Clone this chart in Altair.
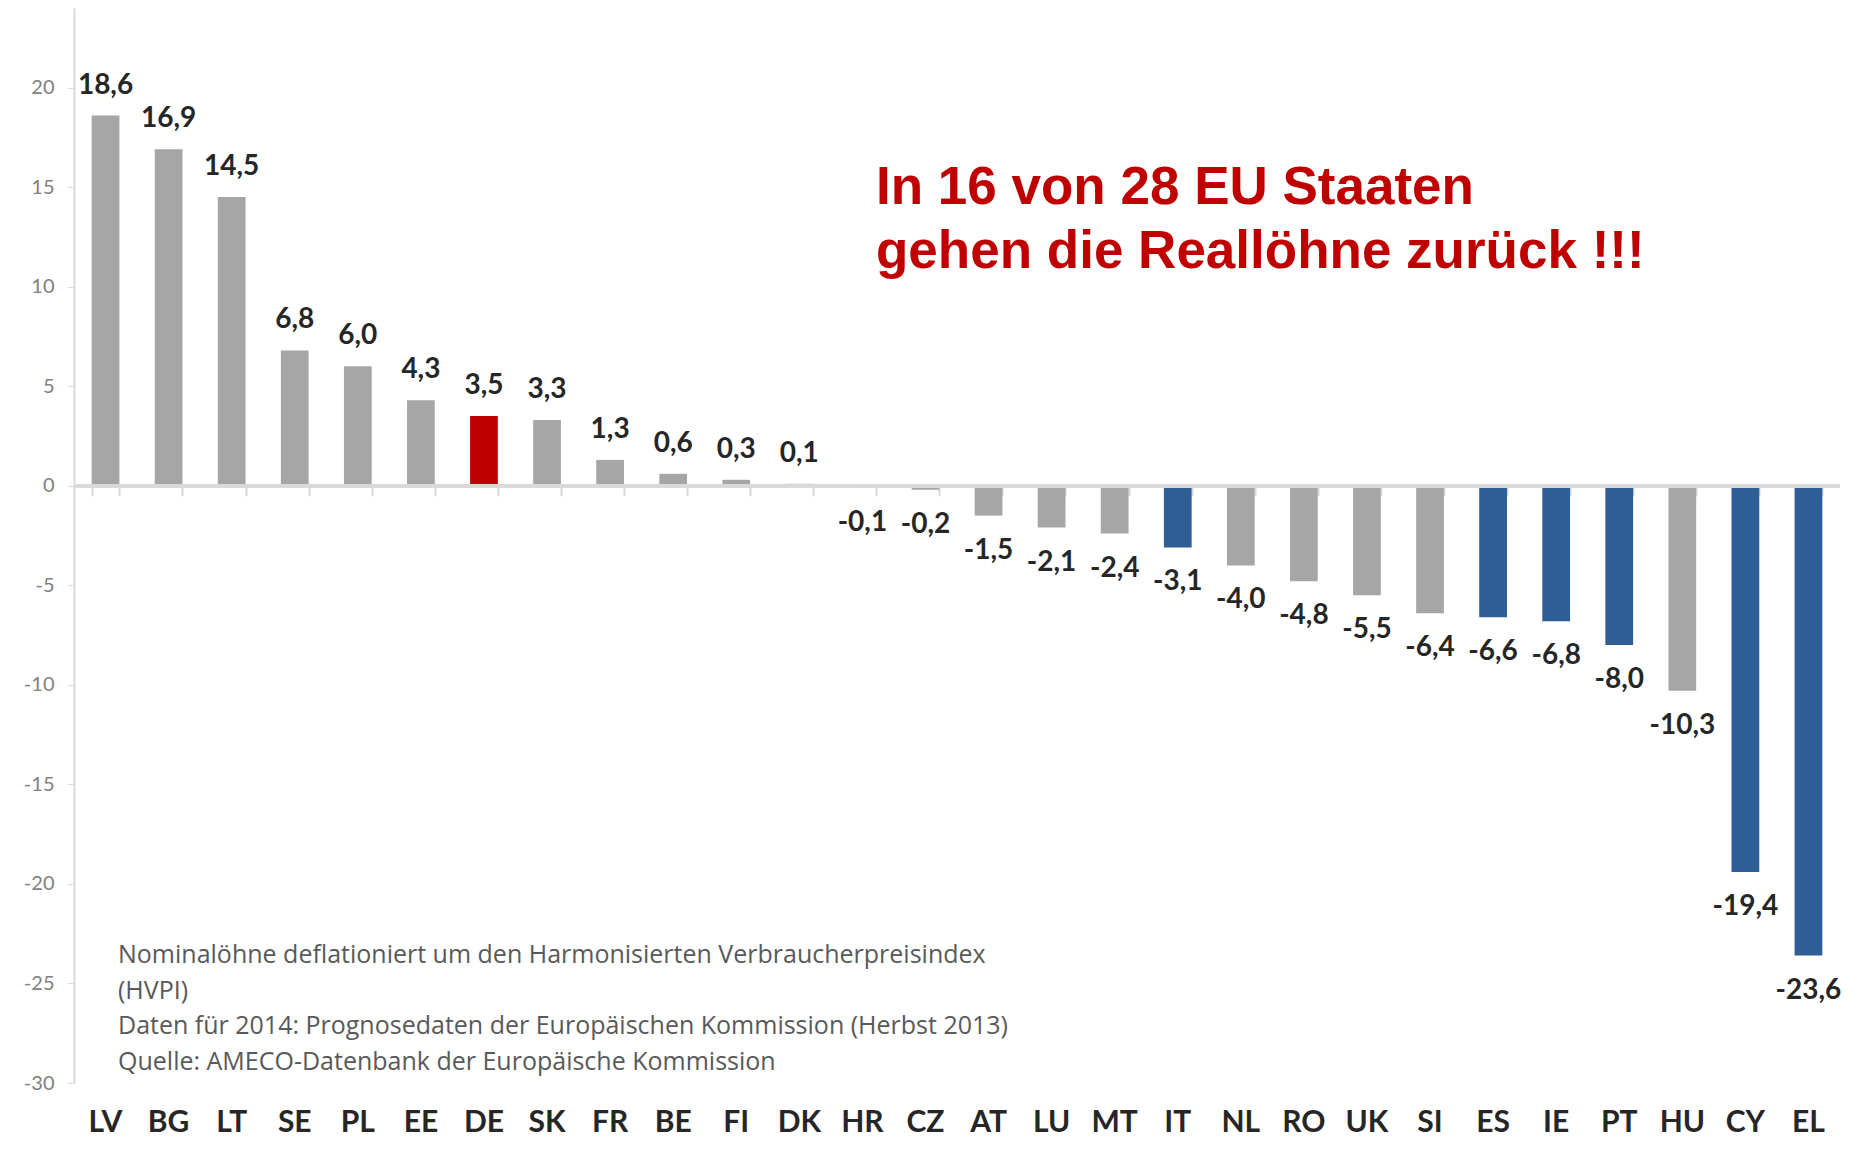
import altair as alt
import pandas as pd

countries = ["LV", "BG", "LT", "SE", "PL", "EE", "DE", "SK", "FR", "BE", "FI", "DK", "HR", "CZ",
             "AT", "LU", "MT", "IT", "NL", "RO", "UK", "SI", "ES", "IE", "PT", "HU", "CY", "EL"]
values = [18.6, 16.9, 14.5, 6.8, 6.0, 4.3, 3.5, 3.3, 1.3, 0.6, 0.3, 0.1, -0.1, -0.2,
          -1.5, -2.1, -2.4, -3.1, -4.0, -4.8, -5.5, -6.4, -6.6, -6.8, -8.0, -10.3, -19.4, -23.6]
groups = ["grau", "grau", "grau", "grau", "grau", "grau", "DE", "grau", "grau", "grau", "grau", "grau", "grau", "grau",
          "grau", "grau", "grau", "krise", "grau", "grau", "grau", "grau", "krise", "krise", "krise", "grau", "krise", "krise"]
group_names = ["grau", "DE", "krise"]
group_colors = ["#A6A6A6", "#C00000", "#2F5D95"]

y_ticks = [-30, -25, -20, -15, -10, -5, 0, 5, 10, 15, 20]
y_domain = [-30, 24]

annotation = ["In 16 von 28 EU Staaten", "gehen die Reallöhne zurück !!!"]
footnote = [
    "Nominalöhne deflationiert um den Harmonisierten Verbraucherpreisindex",
    "(HVPI)",
    "Daten für 2014: Prognosedaten der Europäischen Kommission (Herbst 2013)",
    "Quelle: AMECO-Datenbank der Europäische Kommission",
]

df = pd.DataFrame({
    "country": countries,
    "value": values,
    "group": groups,
    "label": [f"{v:.1f}".replace(".", ",") for v in values],
})

W, H = 1766, 1075
zero_offset = -(H * (0 - y_domain[0]) / (y_domain[1] - y_domain[0]))

xscale = alt.Scale(domain=countries, paddingInner=0.56, paddingOuter=0.28)
yscale = alt.Scale(domain=y_domain, nice=False, zero=False)

base = alt.Chart(df)

bars = base.mark_bar().encode(
    x=alt.X("country:N", sort=countries, scale=xscale, title=None,
            axis=alt.Axis(orient="bottom", labelAngle=0, ticks=False, tickSize=0, domain=False,
                          labelFont="Lato", labelFontWeight="bold", labelFontSize=30,
                          labelColor="#262626", labelPadding=24, grid=False)),
    y=alt.Y("value:Q", scale=yscale, title=None,
            axis=alt.Axis(values=y_ticks, labelExpr="datum.value", grid=False,
                          domainColor="#D9D9D9", domainWidth=2, tickColor="#D9D9D9",
                          tickSize=6, labelFont="Lato", labelFontSize=20, labelColor="#808080",
                          labelPadding=14)),
    color=alt.Color("group:N", scale=alt.Scale(domain=group_names, range=group_colors), legend=None),
)

zero_line = base.mark_rule(color="#D9D9D9", strokeWidth=3).encode(
    y=alt.datum(0, type="quantitative", scale=yscale)
)

pos_text = base.transform_filter("datum.value >= 0").mark_text(
    font="Lato", fontWeight="bold", fontSize=28, color="#262626", baseline="middle", dy=-30
).encode(
    x=alt.X("country:N", sort=countries, scale=xscale, title=None,
            axis=alt.Axis(orient="bottom", offset=zero_offset, labels=False, domain=False,
                          ticks=True, tickBand="extent", tickSize=10, tickColor="#D9D9D9",
                          tickWidth=2, grid=False)),
    y=alt.Y("value:Q", scale=yscale),
    text="label:N",
)

neg_text = base.transform_filter("datum.value < 0").mark_text(
    font="Lato", fontWeight="bold", fontSize=28, color="#262626", baseline="middle", dy=35
).encode(
    x=alt.X("country:N", sort=countries, scale=xscale, axis=None),
    y=alt.Y("value:Q", scale=yscale),
    text="label:N",
)

note_red = alt.Chart().mark_text(
    font="Liberation Sans", fontWeight="bold", fontSize=53, color="#C00000",
    align="left", baseline="alphabetic", lineHeight=64
).encode(x=alt.value(802), y=alt.value(196), text=alt.value(annotation))

note_foot = alt.Chart().mark_text(
    font="Open Sans", fontSize=25, color="#595959",
    align="left", baseline="alphabetic", lineHeight=35.6
).encode(x=alt.value(44), y=alt.value(955), text=alt.value(footnote))

chart = alt.layer(bars, zero_line, pos_text, neg_text, note_red, note_foot).resolve_axis(
    x="independent"
).properties(
    width=W, height=H,
    autosize=alt.AutoSizeParams(type="none"),
    padding={"left": 66, "top": 0, "right": 6, "bottom": 57},
).configure(background="white").configure_view(strokeWidth=0, stroke="transparent")

chart.save("out.html", embed_options={"renderer": "svg", "actions": False})
